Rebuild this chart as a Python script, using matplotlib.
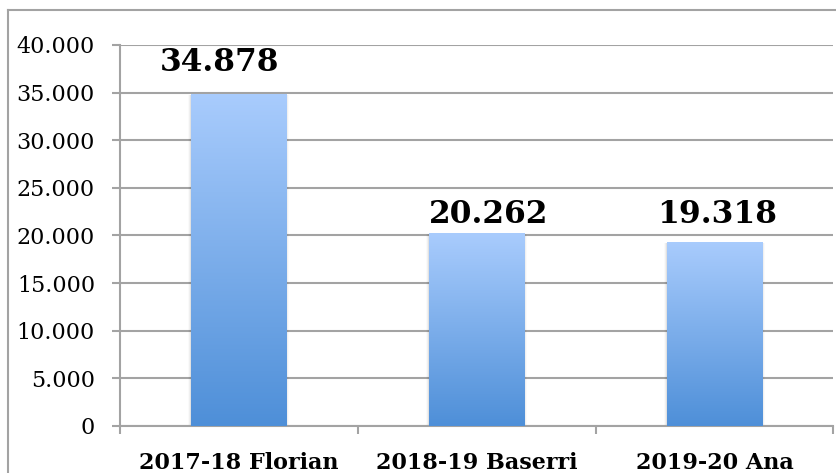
import matplotlib
matplotlib.use("Agg")
import matplotlib.pyplot as plt
import numpy as np
from matplotlib.lines import Line2D
from matplotlib.patches import Rectangle
from matplotlib.colors import LinearSegmentedColormap
from matplotlib.ticker import FuncFormatter, FixedLocator

# datos
temporadas = ["2017-18 Florian", "2018-19 Baserri", "2019-20 Ana"]
valores = [34878, 20262, 19318]
etiquetas = ["34.878", "20.262", "19.318"]

gris = "#a3a3a3"
fig = plt.figure(figsize=(8.36, 4.73), dpi=100)
ax = fig.add_axes([0.1435, 0.0994, 0.8535, 0.8055])

# degradado de las barras
cmap = LinearSegmentedColormap.from_list("azul", ["#4e8fd8", "#a9ccfd"])
grad = np.linspace(0, 1, 256).reshape(-1, 1)
x = np.arange(len(valores))
barras = ax.bar(x, valores, width=0.4, color="none", zorder=3)
for b in barras:
    x0, y0 = b.get_x(), b.get_y()
    w, h = b.get_width(), b.get_height()
    # sombra suave a los lados
    for i, a in enumerate([0.06, 0.04, 0.02]):
        d = 0.004 * (i + 1)
        sh = Rectangle((x0 - d, y0), w + 2 * d, h - 150,
                       facecolor="black", alpha=a, edgecolor="none", zorder=2)
        ax.add_patch(sh)
    im = ax.imshow(grad, cmap=cmap, origin="lower", aspect="auto",
                   extent=[x0, x0 + w, y0, y0 + h], zorder=3)
    im.set_clip_path(b)

ax.set_xlim(-0.5, len(valores) - 0.5)
ax.set_ylim(0, 40000)
ax.set_yticks(np.arange(0, 40001, 5000))
ax.yaxis.set_major_formatter(FuncFormatter(lambda v, p: f"{int(v):,}".replace(",", ".")))
ax.yaxis.grid(True, color=gris, linewidth=1.5, zorder=0)
ax.set_axisbelow(True)

ax.set_xticks(x)
ax.set_xticklabels(temporadas, fontfamily="DejaVu Serif", fontweight="bold", fontsize=16)
ax.tick_params(axis="x", which="major", length=0, pad=19)
ax.xaxis.set_minor_locator(FixedLocator(np.arange(-0.5, len(valores), 1.0)))
ax.tick_params(axis="x", which="minor", length=6, color=gris, width=1.5)
ax.tick_params(axis="y", length=6, color=gris, width=1.5, pad=12)
for t in ax.get_yticklabels():
    t.set_fontfamily("DejaVu Serif")
    t.set_fontsize(16)

for s in ["top", "right"]:
    ax.spines[s].set_visible(False)
for s in ["left", "bottom"]:
    ax.spines[s].set_color(gris)
    ax.spines[s].set_linewidth(1.5)

# etiquetas de datos
pos_etiquetas = [(-0.08, 37300), (1.05, 21300), (2.01, 21300)]
for (px, py), txt in zip(pos_etiquetas, etiquetas):
    ax.text(px, py, txt, ha="center", va="baseline", fontsize=22.5,
            fontfamily="DejaVu Serif", fontweight="bold", zorder=5)

# marco exterior del gráfico
fig.add_artist(Line2D([8 / 836, 8 / 836], [0, 1 - 10 / 473], color=gris, lw=1.5))
fig.add_artist(Line2D([8 / 836, 1], [1 - 10 / 473, 1 - 10 / 473], color=gris, lw=1.5))

fig.savefig("out.png", dpi=100)
